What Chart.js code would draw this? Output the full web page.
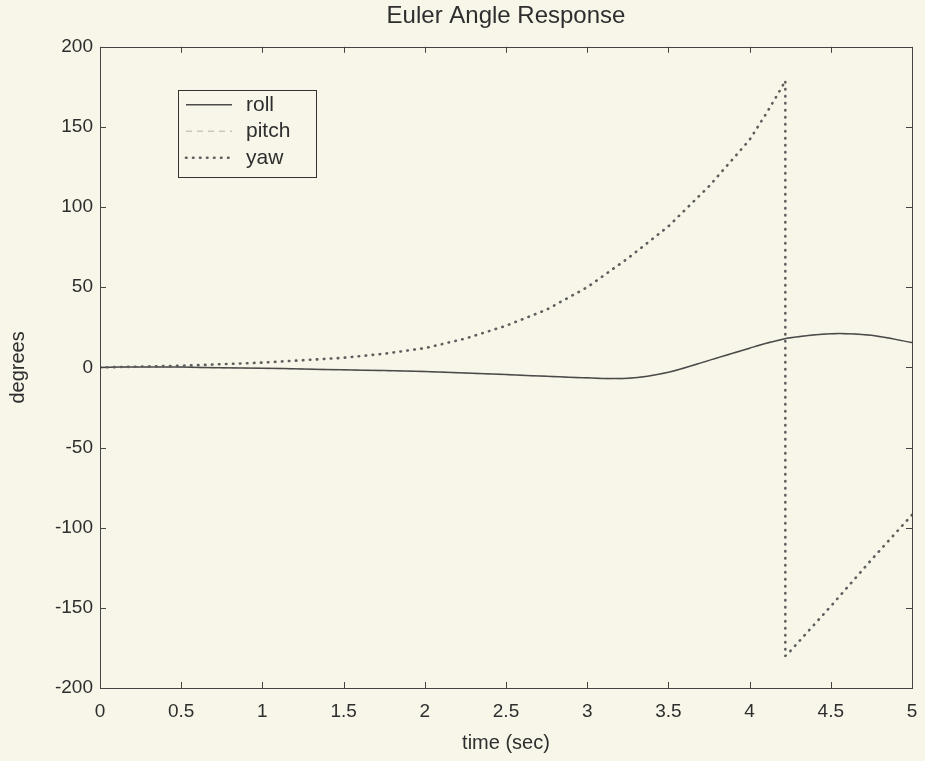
<!DOCTYPE html>
<html>
<head>
<meta charset="utf-8">
<script src="https://cdn.jsdelivr.net/npm/chart.js@4"></script>
<style>
  html, body { margin: 0; padding: 0; background: #f8f6e8; }
  #wrap { width: 925px; height: 761px; }
</style>
</head>
<body>
<div id="wrap"><canvas id="c" width="925" height="761"></canvas></div>
<script>
// ---- data ----
const rollTime  = [0, 0.25, 0.5, 0.75, 1, 1.25, 1.5, 1.75, 2, 2.25, 2.5, 2.75, 3, 3.25, 3.5, 3.75, 4, 4.12, 4.25, 4.5, 4.75, 5];
const rollDeg   = [0, 0.3, 0.2, -0.2, -0.5, -1, -1.5, -2, -2.5, -3.5, -4.5, -5.5, -6.5, -6.8, -3, 4.4, 12, 15.5, 18.5, 21, 20, 15.5];
const pitchTime = [0, 0.25, 0.5, 0.75, 1, 1.25, 1.5, 1.75, 2, 2.25, 2.5, 2.75, 3, 3.25, 3.5, 3.75, 4, 4.12, 4.25, 4.5, 4.75, 5];
const pitchDeg  = [0, 0.2, 0.1, -0.3, -0.6, -1.1, -1.6, -2.1, -2.6, -3.6, -4.6, -5.6, -6.6, -6.9, -3.1, 4.3, 11.9, 15.4, 18.4, 20.9, 19.9, 15.4];
const yawTime   = [0, 0.25, 0.5, 0.75, 1, 1.25, 1.5, 1.75, 2, 2.25, 2.5, 2.75, 3, 3.25, 3.5, 3.75, 4, 4.1, 4.2, 4.22, 4.22, 4.25, 4.5, 4.75, 5];
const yawDeg    = [0, 0.5, 1, 2, 3, 4.5, 6, 8.5, 12, 18, 26, 36, 50, 68, 88, 113, 142, 158, 175, 179, -180, -177, -149, -120, -92];
const xTicks    = [0, 0.5, 1, 1.5, 2, 2.5, 3, 3.5, 4, 4.5, 5];
const xTickLabels = ['0', '0.5', '1', '1.5', '2', '2.5', '3', '3.5', '4', '4.5', '5'];
const yTicks    = [-200, -150, -100, -50, 0, 50, 100, 150, 200];
const seriesNames = ['roll', 'pitch', 'yaw'];

const toXY = (t, v) => t.map((x, i) => ({ x: x, y: v[i] }));
const FONT = 'Liberation Sans, Arial, Helvetica, sans-serif';
const TXT = '#2e2e2e';

const bgPlugin = {
  id: 'bg',
  beforeDraw(chart) {
    const c = chart.ctx;
    c.save();
    c.fillStyle = '#f8f6e8';
    c.fillRect(0, 0, chart.width, chart.height);
    c.restore();
  }
};

const framePlugin = {
  id: 'frame',
  afterDatasetsDraw(chart) {
    const c = chart.ctx, a = chart.chartArea;
    const xs = chart.scales.x, ys = chart.scales.y;
    const L = 6;
    c.save();
    c.strokeStyle = '#444';
    c.lineWidth = 1;
    c.strokeRect(Math.round(a.left) + 0.5, Math.round(a.top) + 0.5, Math.round(a.right - a.left), Math.round(a.bottom - a.top));
    c.beginPath();
    xTicks.forEach(v => {
      const px = Math.round(xs.getPixelForValue(v)) + 0.5;
      c.moveTo(px, a.bottom); c.lineTo(px, a.bottom - L);
      c.moveTo(px, a.top); c.lineTo(px, a.top + L);
    });
    yTicks.forEach(v => {
      const py = Math.round(ys.getPixelForValue(v)) + 0.5;
      c.moveTo(a.left, py); c.lineTo(a.left + L, py);
      c.moveTo(a.right, py); c.lineTo(a.right - L, py);
    });
    c.stroke();

    // legend box
    const bx = a.left + 78, by = a.top + 43, bw = 138, bh = 87;
    c.fillStyle = '#f8f6e8';
    c.fillRect(bx, by, bw, bh);
    c.strokeStyle = '#333';
    c.strokeRect(Math.round(bx) + 0.5, Math.round(by) + 0.5, bw, bh);
    chart.data.datasets.forEach((ds, i) => {
      const ry = by + 15 + i * 26.5;
      c.save();
      c.strokeStyle = ds.borderColor;
      c.lineWidth = ds.borderWidth;
      c.setLineDash(ds.borderDash || []);
      c.lineCap = ds.borderCapStyle || 'butt';
      c.beginPath();
      c.moveTo(bx + 8, ry);
      c.lineTo(bx + 54, ry);
      c.stroke();
      c.restore();
      c.fillStyle = TXT;
      c.font = '21px ' + FONT;
      c.textBaseline = 'middle';
      c.textAlign = 'left';
      c.fillText(ds.label, bx + 68, ry);
    });
    c.restore();
  }
};

new Chart(document.getElementById('c'), {
  type: 'line',
  data: {
    datasets: [
      { label: seriesNames[0], data: toXY(rollTime, rollDeg), borderColor: '#4a4a4a', borderWidth: 1.5,
        pointRadius: 0, tension: 0.3, fill: false, order: 1 },
      { label: seriesNames[1], data: toXY(pitchTime, pitchDeg), borderColor: '#c9c7bc', borderWidth: 1.5,
        borderDash: [6, 5], pointRadius: 0, tension: 0.3, fill: false, order: 2 },
      { label: seriesNames[2], data: toXY(yawTime, yawDeg), borderColor: '#5e5e5e', borderWidth: 2.6,
        borderDash: [0.5, 6.5], borderCapStyle: 'round', pointRadius: 0, tension: 0, fill: false, order: 0 }
    ]
  },
  options: {
    responsive: false,
    animation: false,
    layout: { padding: { left: 0, right: 13, top: 0, bottom: 6 } },
    plugins: {
      legend: { display: false },
      tooltip: { enabled: false },
      title: {
        display: true, fullSize: false, text: 'Euler Angle Response', color: TXT,
        font: { family: FONT, size: 24, weight: 'normal' },
        padding: { top: 2, bottom: 16 }
      }
    },
    scales: {
      x: {
        type: 'linear', min: 0, max: 5,
        afterBuildTicks: s => { s.ticks = xTicks.map(v => ({ value: v })); },
        afterFit: s => { s.height = 67; s.paddingLeft = 0; s.paddingRight = 0; },
        grid: { display: false, drawTicks: false },
        border: { display: false },
        ticks: { color: TXT, font: { family: FONT, size: 19 }, padding: 12, maxRotation: 0,
                 callback: (v) => { const i = xTicks.indexOf(v); return i >= 0 ? xTickLabels[i] : ''; } },
        title: { display: true, text: 'time (sec)', color: TXT, font: { family: FONT, size: 20 }, padding: 0 }
      },
      y: {
        type: 'linear', min: -200, max: 200,
        afterBuildTicks: s => { s.ticks = yTicks.map(v => ({ value: v })); },
        afterFit: s => { s.width = 100; s.paddingTop = 0; s.paddingBottom = 0; },
        grid: { display: false, drawTicks: false },
        border: { display: false },
        ticks: { color: TXT, font: { family: FONT, size: 19 }, padding: 7 },
        title: { display: true, text: 'degrees', color: TXT, font: { family: FONT, size: 20 }, padding: { top: 6, bottom: 0 } }
      }
    }
  },
  plugins: [bgPlugin, framePlugin]
});
</script>
</body>
</html>
